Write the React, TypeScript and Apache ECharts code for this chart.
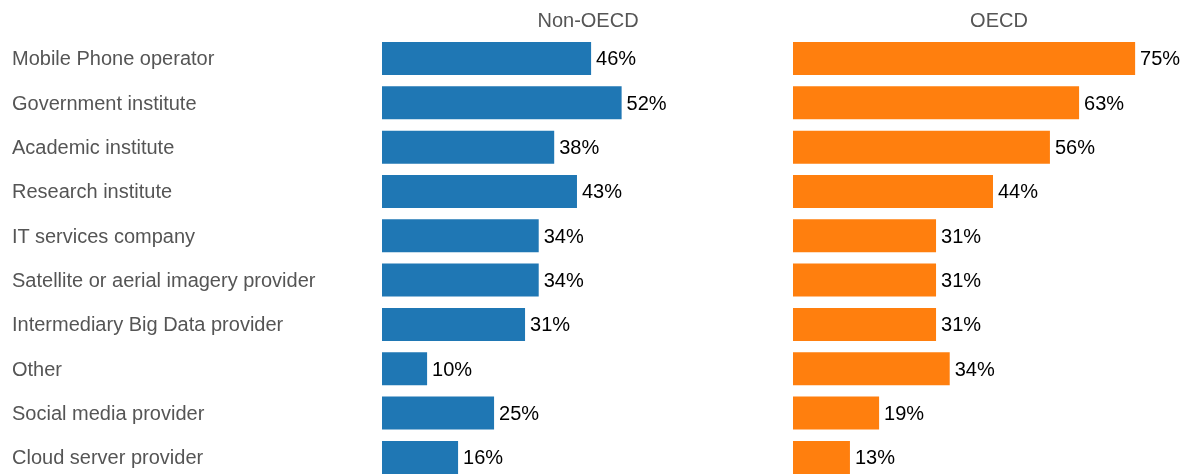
import React, { useEffect, useRef } from "react";
import * as echarts from "echarts";

const categories = [
  "Mobile Phone operator",
  "Government institute",
  "Academic institute",
  "Research institute",
  "IT services company",
  "Satellite or aerial imagery provider",
  "Intermediary Big Data provider",
  "Other",
  "Social media provider",
  "Cloud server provider",
];
const nonOecd = [45.9, 52.6, 37.8, 42.8, 34.4, 34.4, 31.4, 9.9, 24.6, 16.7];
const oecd = [75.1, 62.8, 56.4, 43.9, 31.4, 31.4, 31.4, 34.4, 18.9, 12.5];
const nonOecdLabels = ["46%", "52%", "38%", "43%", "34%", "34%", "31%", "10%", "25%", "16%"];
const oecdLabels = ["75%", "63%", "56%", "44%", "31%", "31%", "31%", "34%", "19%", "13%"];
const panelTitles = ["Non-OECD", "OECD"];

const FONT = "Liberation Sans, Arial, Helvetica, sans-serif";

export default function App() {
  const ref = useRef<HTMLDivElement>(null);
  useEffect(() => {
    if (!ref.current) return;
    const chart = echarts.init(ref.current, null, { renderer: "svg" });
    const gridTop = 36.3;
    const gridHeight = 443.3;
    const gridW = 410;
    const lefts = [382, 793];
    const labelSets = [nonOecdLabels, oecdLabels];
    chart.setOption({
      animation: false,
      graphic: panelTitles.map((t, i) => ({
        type: "text",
        x: lefts[i] + gridW / 2 + 1,
        y: 20,
        style: {
          text: t,
          textAlign: "center",
          textVerticalAlign: "middle",
          fontFamily: FONT,
          fontSize: 20,
          fill: "#555555",
        },
      })),
      grid: lefts.map((l) => ({
        left: l,
        top: gridTop,
        width: gridW,
        height: gridHeight,
        outerBoundsMode: "none",
        containLabel: false,
      })),
      xAxis: lefts.map((_, i) => ({
        type: "value",
        gridIndex: i,
        min: 0,
        max: 90,
        show: false,
      })),
      yAxis: lefts.map((_, i) => ({
        type: "category",
        gridIndex: i,
        data: categories,
        inverse: true,
        axisLine: { show: false },
        axisTick: { show: false },
        splitLine: { show: false },
        axisLabel: {
          show: i === 0,
          align: "left",
          margin: 370,
          fontFamily: FONT,
          fontSize: 20,
          color: "#555555",
        },
      })),
      series: [nonOecd, oecd].map((d, i) => ({
        type: "bar",
        xAxisIndex: i,
        yAxisIndex: i,
        data: d,
        barWidth: 33,
        itemStyle: { color: i === 0 ? "#1f77b4" : "#ff7f0e" },
        label: {
          show: true,
          position: "right",
          distance: 5,
          formatter: (p: any) => labelSets[i][p.dataIndex],
          fontFamily: FONT,
          fontSize: 20,
          color: "#000000",
        },
      })),
    });
    return () => chart.dispose();
  }, []);
  return (
    <div
      ref={ref}
      style={{ position: "fixed", left: 0, top: 0, width: 1190, height: 475 }}
    />
  );
}
